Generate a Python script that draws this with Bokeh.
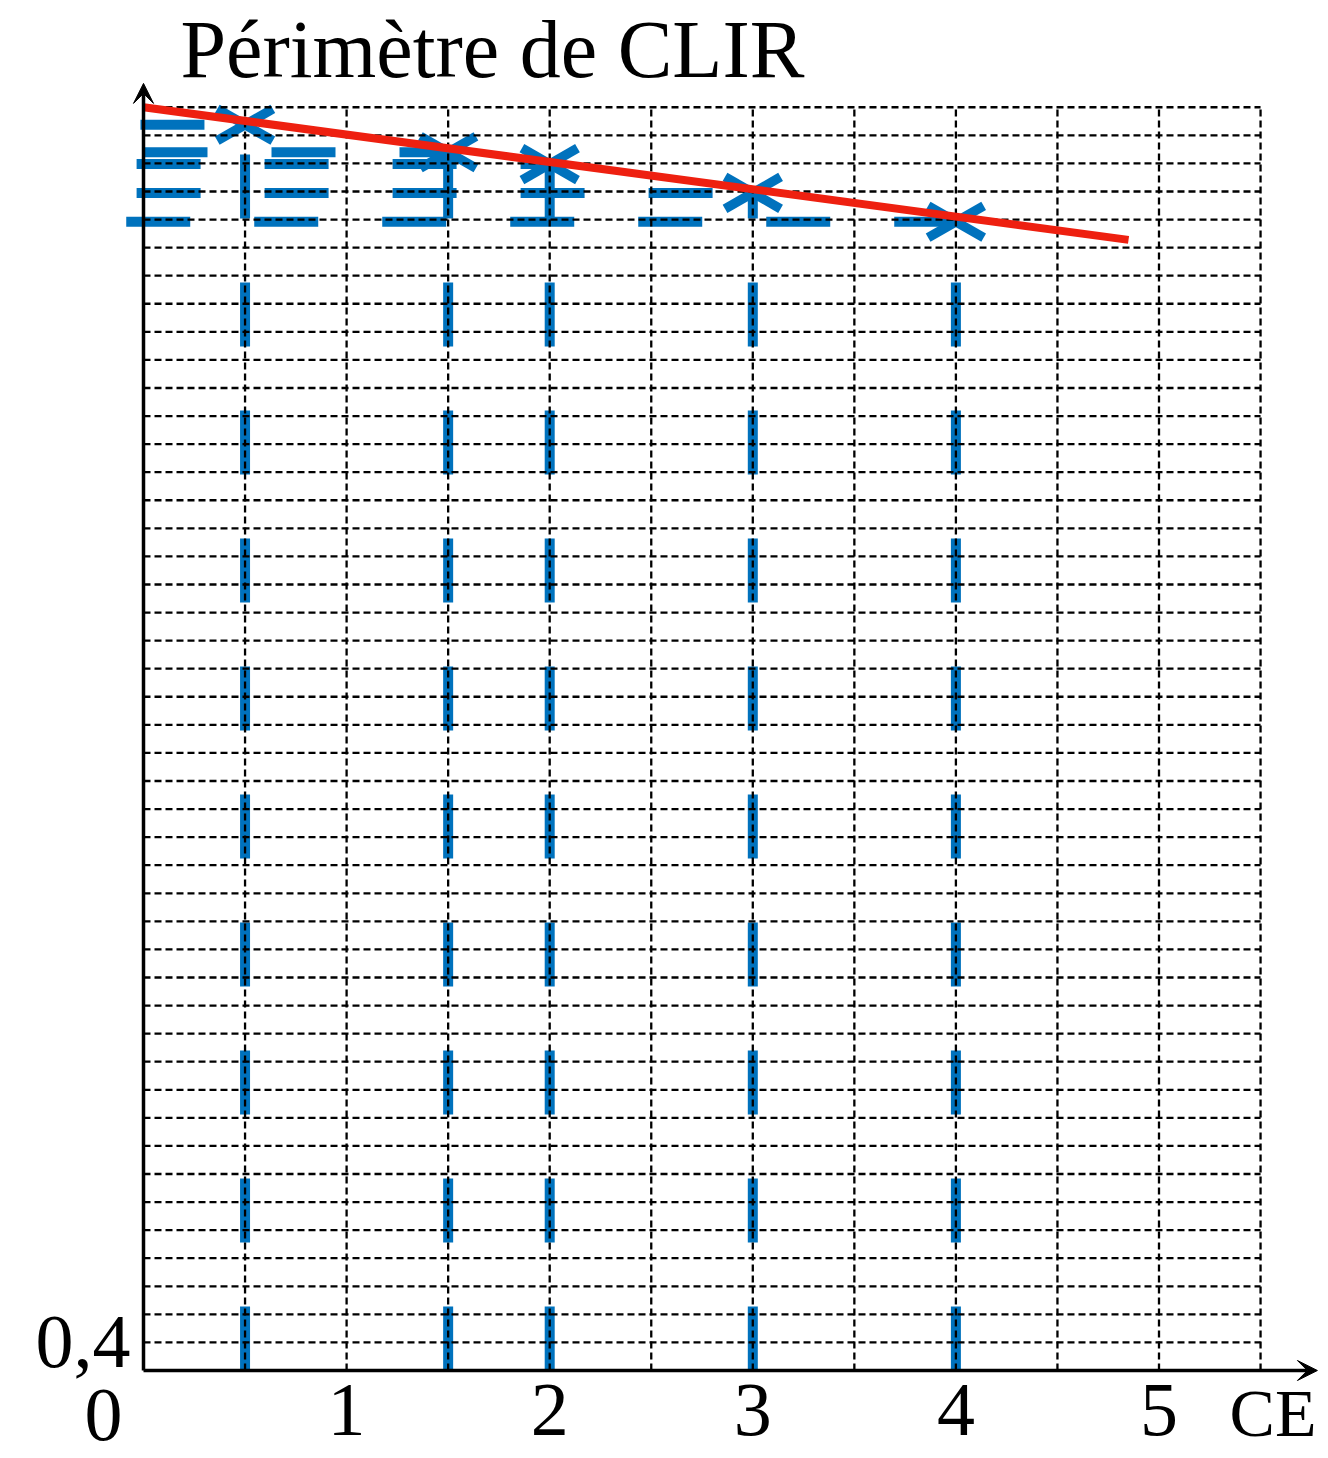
import numpy as np
from bokeh.plotting import figure
from bokeh.models import Range1d, FixedTicker, Arrow, VeeHead, Label
from bokeh.embed import file_html
from bokeh.resources import INLINE

# ---------------- data ----------------
ce = [0.5, 1.5, 2.0, 3.0, 4.0]                      # CE values of the measured points
perimetre = [17.75, 17.36, 17.19, 16.78, 16.37]     # Périmètre de CLIR
proj_start = [-0.015, 0.0, -0.034, -0.034, -0.085]  # left end of each horizontal projection
trend_x = [0.0, 4.85]
trend_y = [18.0, 16.11]
x_ticks = [1, 2, 3, 4, 5]
y_ticks = [0.4]
y_tick_labels = {0.4: "0,4"}
title_text = "Périmètre de CLIR"
x_name = "CE"
origin_label = "0"

X_MAX, Y_MAX = 5.5, 18.0
X_STEP, Y_STEP = 0.5, 0.4
X_TIP, Y_TIP = 5.78, 18.34

# ---------------- layout ----------------
W, H = 1328, 1458
PX_X, PX_Y = 203.1, 70.18      # pixels per data unit
ORIG_X, ORIG_Y = 143, 1370     # canvas pixel of the origin (from left / top)

BLUE = "#0072BD"
RED = "#EE2010"
FONT = "Liberation Serif"

p = figure(width=W, height=H,
           x_range=Range1d(-ORIG_X / PX_X, (W - ORIG_X) / PX_X),
           y_range=Range1d(-(H - ORIG_Y) / PX_Y, ORIG_Y / PX_Y),
           output_backend="svg", toolbar_location=None,
           min_border=0, outline_line_color=None)
p.grid.visible = False
p.background_fill_color = "white"

# blue projection lines (drawn below the grid)
p.segment(x0=ce, y0=0, x1=ce, y1=perimetre, line_color=BLUE, line_width=10,
          line_dash="64 64")
p.segment(x0=proj_start, y0=perimetre, x1=ce, y1=perimetre, line_color=BLUE,
          line_width=10, line_dash="64 64")
# cross markers
for ang in (0.52, -0.52):
    p.scatter(ce, perimetre, marker="dash", size=64, angle=ang,
              line_color=BLUE, line_width=9.5)

# dashed grid
gx = np.arange(X_STEP, X_MAX + 1e-9, X_STEP)
gy = np.arange(Y_STEP, Y_MAX + 1e-9, Y_STEP)
p.segment(x0=gx, y0=0, x1=gx, y1=Y_MAX, line_color="black", line_width=2.3,
          line_dash="7 4")
p.segment(x0=0, y0=gy, x1=X_MAX, y1=gy, line_color="black", line_width=2.3,
          line_dash="7 4")

# trend line
p.line(trend_x, trend_y, line_color=RED, line_width=8)

# axes (labels only, lines drawn as arrows)
for ax in p.xaxis:
    ax.fixed_location = 0
    ax.ticker = FixedTicker(ticks=x_ticks)
for ax in p.yaxis:
    ax.fixed_location = 0
    ax.ticker = FixedTicker(ticks=y_ticks)
    ax.major_label_overrides = y_tick_labels
for ax in list(p.xaxis) + list(p.yaxis):
    ax.axis_line_color = None
    ax.major_tick_line_color = None
    ax.minor_tick_line_color = None
    ax.major_label_text_font = FONT
    ax.major_label_text_font_size = "76px"
    ax.major_label_text_color = "black"
p.xaxis.major_label_standoff = 8
p.yaxis.major_label_standoff = 7

p.add_layout(Arrow(x_start=0, y_start=0, x_end=X_TIP, y_end=0, line_width=3.5,
                   end=VeeHead(size=20, fill_color="black", line_color="black")))
p.add_layout(Arrow(x_start=0, y_start=0, x_end=0, y_end=Y_TIP, line_width=3.5,
                   end=VeeHead(size=20, fill_color="black", line_color="black")))

p.add_layout(Label(x=0, y=0, x_offset=-40, y_offset=-44, text=origin_label,
                   text_align="center", text_baseline="middle", text_font=FONT,
                   text_font_size="76px", text_color="black"))
p.add_layout(Label(x=(W - 12 - ORIG_X) / PX_X, y=0, y_offset=-42, text=x_name,
                   text_align="right", text_baseline="middle", text_font=FONT,
                   text_font_size="68px", text_color="black"))
p.add_layout(Label(x=0, y=Y_MAX, x_offset=37, y_offset=58, text=title_text,
                   text_align="left", text_baseline="middle", text_font=FONT,
                   text_font_size="82px", text_color="black"))

open("out.html", "w").write(file_html(p, INLINE))
